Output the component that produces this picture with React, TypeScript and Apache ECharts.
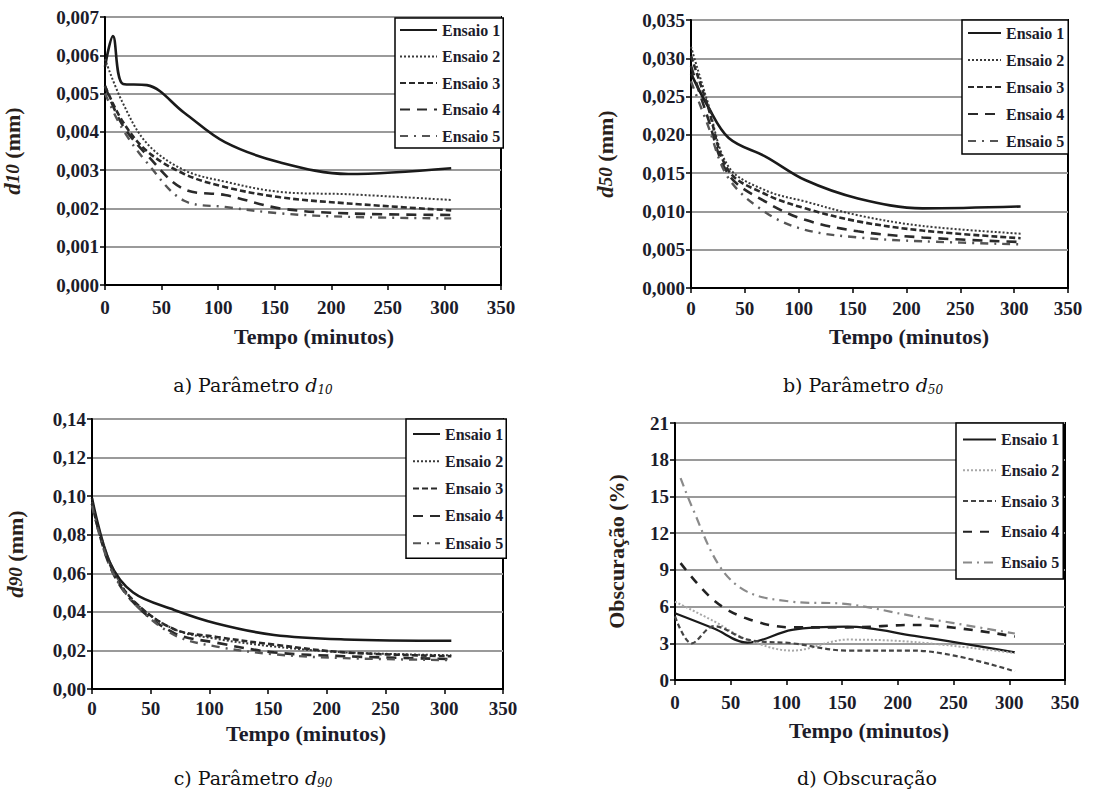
import React, { useEffect, useRef } from 'react';
import * as echarts from 'echarts';

const seriesNames = ['Ensaio 1', 'Ensaio 2', 'Ensaio 3', 'Ensaio 4', 'Ensaio 5'];

// Panel a: d10 (mm) vs Tempo (minutos)
const d10E1 = [[0, 0.0057], [7, 0.0065], [16, 0.00525], [37, 0.00522], [70, 0.0045], [106, 0.00373], [155, 0.0032], [215, 0.0029], [306, 0.00305]];
const d10E2 = [[0, 0.0059], [15, 0.0048], [37, 0.0037], [70, 0.003], [106, 0.0027], [155, 0.00243], [215, 0.00237], [306, 0.00222]];
const d10E3 = [[0, 0.0052], [15, 0.0043], [37, 0.0035], [70, 0.0029], [106, 0.00256], [155, 0.00229], [215, 0.00213], [306, 0.00195]];
const d10E4 = [[0, 0.0052], [15, 0.0042], [37, 0.0034], [70, 0.0025], [106, 0.00235], [155, 0.002], [215, 0.00187], [306, 0.00183]];
const d10E5 = [[0, 0.005], [15, 0.0041], [37, 0.0032], [70, 0.0022], [106, 0.00204], [155, 0.00187], [215, 0.00178], [306, 0.00174]];

// Panel b: d50 (mm)
const d50E1 = [[0, 0.028], [15, 0.0239], [35, 0.0196], [70, 0.0171], [106, 0.0141], [155, 0.0117], [215, 0.0104], [306, 0.01065]];
const d50E2 = [[0, 0.0315], [15, 0.0245], [35, 0.0158], [70, 0.0127], [106, 0.0113], [155, 0.0095], [215, 0.0081], [306, 0.0071]];
const d50E3 = [[0, 0.0303], [15, 0.024], [35, 0.0153], [70, 0.0122], [106, 0.0104], [155, 0.0087], [215, 0.0075], [306, 0.0065]];
const d50E4 = [[0, 0.029], [15, 0.0225], [35, 0.0148], [70, 0.0112], [106, 0.0089], [155, 0.0074], [215, 0.0066], [306, 0.006]];
const d50E5 = [[0, 0.027], [15, 0.0215], [35, 0.0143], [70, 0.0098], [106, 0.0076], [155, 0.0066], [215, 0.0061], [306, 0.0057]];

// Panel c: d90 (mm)
const d90E1 = [[0, 0.099], [15, 0.066], [35, 0.05], [70, 0.041], [106, 0.034], [155, 0.028], [215, 0.0257], [306, 0.025]];
const d90E2 = [[0, 0.097], [15, 0.066], [35, 0.046], [70, 0.031], [106, 0.026], [155, 0.022], [215, 0.019], [306, 0.0175]];
const d90E3 = [[0, 0.096], [15, 0.065], [35, 0.046], [70, 0.031], [106, 0.027], [155, 0.023], [215, 0.019], [306, 0.017]];
const d90E4 = [[0, 0.096], [15, 0.064], [35, 0.045], [70, 0.029], [106, 0.024], [155, 0.019], [215, 0.017], [306, 0.0155]];
const d90E5 = [[0, 0.095], [15, 0.064], [35, 0.045], [70, 0.028], [106, 0.022], [155, 0.018], [215, 0.016], [306, 0.015]];

// Panel d: Obscuração (%)
const obsE1 = [[0, 5.45], [35, 4.2], [65, 3.05], [105, 4.1], [155, 4.36], [215, 3.6], [305, 2.26]];
const obsE2 = [[0, 6.4], [35, 4.8], [65, 3.3], [105, 2.4], [155, 3.3], [215, 3.1], [305, 2.2]];
const obsE3 = [[0, 5.2], [15, 3.0], [35, 4.4], [65, 3.3], [105, 3.0], [155, 2.4], [215, 2.4], [305, 0.7]];
const obsE4 = [[5, 9.55], [35, 6.5], [65, 5.0], [105, 4.3], [155, 4.3], [215, 4.5], [305, 3.55]];
const obsE5 = [[5, 16.5], [15, 14.2], [40, 9.3], [65, 7.2], [105, 6.4], [155, 6.2], [215, 5.2], [305, 3.8]];

const xMin = 0;
const xMax = 350;
const xStep = 50;

const FONT = 'Liberation Serif, serif';
const CAP_FONT = 'DejaVu Serif, serif';
const INK = '#1c1c2a';

type Panel = {
  id: string;
  data: number[][][];
  yMax: number;
  yStep: number;
  dec: number;
  yName: string;
  grid: { left: number; top: number; width: number; height: number };
  yNameGap: number;
  xLabelMargin: number;
  legend: { left: number; top: number; itemWidth: number; itemGap: number; padding: number[] };
  styles: { color: string; width: number; type: any }[];
  xTitle: [number, number];
  caption: { x: number; y: number; text: string };
};

const baseStyles = [
  { color: '#1a1a1a', width: 2.6, type: 'solid' },
  { color: '#3a3a3a', width: 2, type: [2, 2] },
  { color: '#2a2a2a', width: 2.6, type: [6, 3] },
  { color: '#2a2a2a', width: 2.6, type: [10, 7] },
  { color: '#555555', width: 2.4, type: [8, 6, 2, 6] },
];
const obsStyles = [
  { color: '#1a1a1a', width: 2.2, type: 'solid' },
  { color: '#a8a8a8', width: 2, type: [2, 2] },
  { color: '#444444', width: 2.2, type: [5, 3] },
  { color: '#222222', width: 2.6, type: [9, 8] },
  { color: '#8a8a8a', width: 2.2, type: [9, 5, 2, 5] },
];

const panels: Panel[] = [
  {
    id: 'a', data: [d10E1, d10E2, d10E3, d10E4, d10E5], yMax: 0.007, yStep: 0.001, dec: 3,
    yName: '{i|d}{s|10}{n| (mm)}',
    grid: { left: 97, top: 17, width: 404, height: 268 }, yNameGap: 81, xLabelMargin: 13,
    legend: { left: 395, top: 18, itemWidth: 37, itemGap: 10.5, padding: [4, 3, 4, 4] },
    styles: baseStyles, xTitle: [314, 336],
    caption: { x: 253, y: 385, text: '{n|a) Parâmetro }{i|d}{s|10}' },
  },
  {
    id: 'b', data: [d50E1, d50E2, d50E3, d50E4, d50E5], yMax: 0.035, yStep: 0.005, dec: 3,
    yName: '{i|d}{s|50}{n| (mm)}',
    grid: { left: 691, top: 20, width: 377, height: 268 }, yNameGap: 74, xLabelMargin: 11,
    legend: { left: 962, top: 20, itemWidth: 33, itemGap: 11, padding: [5, 4, 5, 5] },
    styles: baseStyles, xTitle: [909, 336],
    caption: { x: 863, y: 385, text: '{n|b) Parâmetro }{i|d}{s|50}' },
  },
  {
    id: 'c', data: [d90E1, d90E2, d90E3, d90E4, d90E5], yMax: 0.14, yStep: 0.02, dec: 2,
    yName: '{i|d}{s|90}{n| (mm)}',
    grid: { left: 92, top: 419, width: 411, height: 270 }, yNameGap: 65, xLabelMargin: 10,
    legend: { left: 406, top: 419, itemWidth: 27, itemGap: 11.3, padding: [7, 3, 7, 6] },
    styles: baseStyles, xTitle: [306, 733],
    caption: { x: 253, y: 778, text: '{n|c) Parâmetro }{i|d}{s|90}' },
  },
  {
    id: 'd', data: [obsE1, obsE2, obsE3, obsE4, obsE5], yMax: 21, yStep: 3, dec: 0,
    yName: '{n|Obscuração (%)}',
    grid: { left: 675, top: 423, width: 390, height: 257 }, yNameGap: 48, xLabelMargin: 13,
    legend: { left: 956, top: 423, itemWidth: 33, itemGap: 14.7, padding: [8.6, 4, 8.6, 6] },
    styles: obsStyles, xTitle: [869, 730],
    caption: { x: 867, y: 778, text: '{n|d) Obscuração}' },
  },
];

function buildOption() {
  const grid: any[] = [];
  const xAxis: any[] = [];
  const yAxis: any[] = [];
  const series: any[] = [];
  const legend: any[] = [];
  const graphic: any[] = [];

  panels.forEach((p, idx) => {
    grid.push({ ...p.grid, show: true, borderColor: '#000', borderWidth: 2, backgroundColor: '#fff', containLabel: false });
    xAxis.push({
      type: 'value', gridIndex: idx, min: xMin, max: xMax, interval: xStep,
      axisLine: { show: true, onZero: false, lineStyle: { color: '#000', width: 2 } },
      axisTick: { show: true, length: 5, lineStyle: { color: '#000', width: 1.5 } },
      splitLine: { show: false },
      axisLabel: { color: INK, fontFamily: FONT, fontWeight: 'bold', fontSize: 19, margin: p.xLabelMargin },
    });
    yAxis.push({
      type: 'value', gridIndex: idx, min: 0, max: p.yMax, interval: p.yStep,
      name: p.yName, nameLocation: 'middle', nameRotate: 90, nameGap: p.yNameGap,
      nameTextStyle: {
        color: '#2a1f1a', fontFamily: FONT, fontWeight: 'bold', fontSize: 22,
        rich: {
          i: { fontFamily: FONT, fontStyle: 'italic', fontWeight: 'bold', fontSize: 23, color: '#2a1f1a' },
          s: { fontFamily: FONT, fontStyle: 'italic', fontWeight: 'bold', fontSize: 19, color: '#2a1f1a' },
          n: { fontFamily: FONT, fontWeight: 'bold', fontSize: 22, color: '#2a1f1a' },
        },
      },
      axisLine: { show: true, lineStyle: { color: '#000', width: 2 } },
      axisTick: { show: true, length: 5, lineStyle: { color: '#000', width: 1.5 } },
      splitLine: { show: true, lineStyle: { color: '#9a9a9a', width: 2 } },
      axisLabel: {
        color: INK, fontFamily: FONT, fontWeight: 'bold', fontSize: 19, margin: 6,
        formatter: (v: number) => v.toFixed(p.dec).replace('.', ','),
      },
    });
    p.data.forEach((d, si) => {
      const st = p.styles[si];
      series.push({
        type: 'line', name: p.id + '|' + seriesNames[si], xAxisIndex: idx, yAxisIndex: idx,
        data: d, symbol: 'circle', symbolSize: 0, showSymbol: false, smooth: 0.35,
        lineStyle: { color: st.color, width: st.width, type: st.type },
        itemStyle: { color: st.color },
        z: 3,
      });
    });
    legend.push({
      orient: 'vertical', left: p.legend.left, top: p.legend.top,
      itemWidth: p.legend.itemWidth, itemHeight: 14, itemGap: p.legend.itemGap,
      padding: p.legend.padding, borderColor: '#000', borderWidth: 1.5, backgroundColor: '#fff',
      selectedMode: false,
      itemStyle: { opacity: 0 },
      textStyle: { color: INK, fontFamily: FONT, fontWeight: 'bold', fontSize: 16, lineHeight: 14 },
      formatter: (n: string) => n.split('|')[1],
      data: seriesNames.map((n) => p.id + '|' + n),
    });
    graphic.push({
      type: 'text', x: p.xTitle[0], y: p.xTitle[1],
      style: { text: 'Tempo (minutos)', fill: INK, fontFamily: FONT, fontWeight: 'bold', fontSize: 22, align: 'center', verticalAlign: 'middle' },
    });
    graphic.push({
      type: 'text', x: p.caption.x, y: p.caption.y,
      style: {
        text: p.caption.text, fill: '#111', align: 'center', verticalAlign: 'middle',
        fontFamily: CAP_FONT, fontSize: 19,
        rich: {
          n: { fontFamily: CAP_FONT, fontSize: 19, fill: '#111' },
          i: { fontFamily: CAP_FONT, fontSize: 19, fontStyle: 'italic', fill: '#111' },
          s: { fontFamily: CAP_FONT, fontSize: 12, fontStyle: 'italic', fill: '#111', verticalAlign: 'bottom', padding: [9, 0, 0, 0] },
        },
      },
    });
  });

  return { animation: false, backgroundColor: '#fff', grid, xAxis, yAxis, series, legend, graphic };
}

export default function App() {
  const ref = useRef<HTMLDivElement>(null);
  useEffect(() => {
    if (!ref.current) return;
    const chart = echarts.init(ref.current, undefined, { renderer: 'svg' });
    chart.setOption(buildOption());
    return () => chart.dispose();
  }, []);
  return (
    <div
      ref={ref}
      style={{ position: 'absolute', left: 0, top: 0, width: 1117, height: 796, background: '#fff' }}
    />
  );
}
